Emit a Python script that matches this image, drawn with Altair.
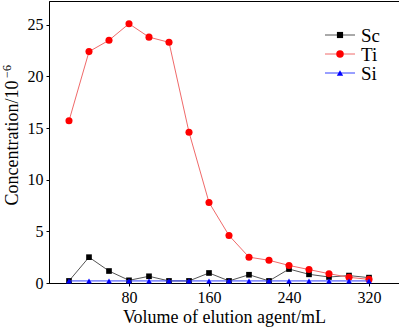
import altair as alt
import pandas as pd

volume = [20, 40, 60, 80, 100, 120, 140, 160, 180, 200, 220, 240, 260, 280, 300, 320]
sc = [0.2, 2.5, 1.16, 0.26, 0.65, 0.2, 0.2, 0.97, 0.2, 0.8, 0.2, 1.35, 0.84, 0.58, 0.72, 0.52]
ti = [15.7, 22.4, 23.5, 25.1, 23.8, 23.3, 14.6, 7.8, 4.6, 2.5, 2.2, 1.7, 1.3, 0.9, 0.55, 0.35]
si = [0.2, 0.2, 0.2, 0.2, 0.2, 0.2, 0.2, 0.2, 0.2, 0.2, 0.2, 0.2, 0.2, 0.2, 0.2, 0.2]

series_names = ["Sc", "Ti", "Si"]
series_values = [sc, ti, si]
marker_colors = ["#000000", "#ff0000", "#0000ff"]
line_colors = ["#555555", "#f06a6a", "#3340ff"]
shapes = ["square", "circle", "triangle-up"]
sizes = [32, 50, 34]

y_title_main = "Concentration/10"
y_title_sup = "−6"
x_title = "Volume of elution agent/mL"

FONT = "Liberation Serif"
W, H = 350, 282

x_scale = alt.Scale(domain=[0, 350], nice=False, zero=False)
y_scale = alt.Scale(domain=[0, 27.3], nice=False)

layers = []
for i, (name, vals) in enumerate(zip(series_names, series_values)):
    df = pd.DataFrame({"volume": volume, "value": vals, "series": name})
    base = alt.Chart(df).encode(
        x=alt.X("volume:Q", scale=x_scale,
                axis=alt.Axis(values=[80, 160, 240, 320], title=x_title,
                              titleY=39, titleBaseline="alphabetic")),
        y=alt.Y("value:Q", scale=y_scale,
                axis=alt.Axis(values=[0, 5, 10, 15, 20, 25], title=y_title_main,
                              titleX=-37, titleY=141.5, titleAngle=270, titleAlign="center",
                              titleBaseline="middle")),
    )
    layers.append(base.mark_line(color=line_colors[i], strokeWidth=1))
    layers.append(base.mark_point(filled=True, shape=shapes[i], size=sizes[i],
                                  color=marker_colors[i], opacity=1))

# superscript of y title
sup_df = pd.DataFrame({"t": [y_title_sup]})
layers.append(alt.Chart(sup_df).mark_text(
    font=FONT, fontSize=12, angle=270, align="center", baseline="middle", color="#000000"
).encode(x=alt.value(-42), y=alt.value(70.5), text="t:N"))

# legend (manual)
leg_rows = []
for i, name in enumerate(series_names):
    ly = 34 + i * 19
    leg_rows.append({"series": name, "x1": 276, "x2": 306, "xm": 291, "xt": 312, "y": ly})
leg = pd.DataFrame(leg_rows)
for i, name in enumerate(series_names):
    d = leg[leg.series == name]
    b = alt.Chart(d)
    layers.append(b.mark_rule(color=line_colors[i], strokeWidth=1).encode(
        x=alt.X("x1:Q", scale=None), x2="x2:Q", y=alt.Y("y:Q", scale=None)))
    layers.append(b.mark_point(filled=True, shape=shapes[i], size=sizes[i] + 6,
                               color=marker_colors[i], opacity=1).encode(
        x=alt.X("xm:Q", scale=None), y=alt.Y("y:Q", scale=None)))
    layers.append(b.mark_text(align="left", baseline="middle", font=FONT, fontSize=19,
                              color="#000000", dy=1).encode(
        x=alt.X("xt:Q", scale=None), y=alt.Y("y:Q", scale=None), text="series:N"))

chart = alt.layer(*layers).properties(
    width=W, height=H,
    autosize=alt.AutoSizeParams(type="none"),
    padding={"left": 49, "top": 1, "right": 0, "bottom": 44},
    background="white",
).configure_view(
    stroke="#000000", strokeWidth=1
).configure_axis(
    labelFont=FONT, titleFont=FONT, labelFontSize=16, titleFontSize=18,
    labelColor="#000000", titleColor="#000000", titleFontWeight="normal",
    domainColor="#000000", tickColor="#000000", tickSize=3, labelPadding=3,
    grid=False, domainWidth=1,
)

chart.save("out.html", embed_options={"renderer": "svg", "actions": False})
